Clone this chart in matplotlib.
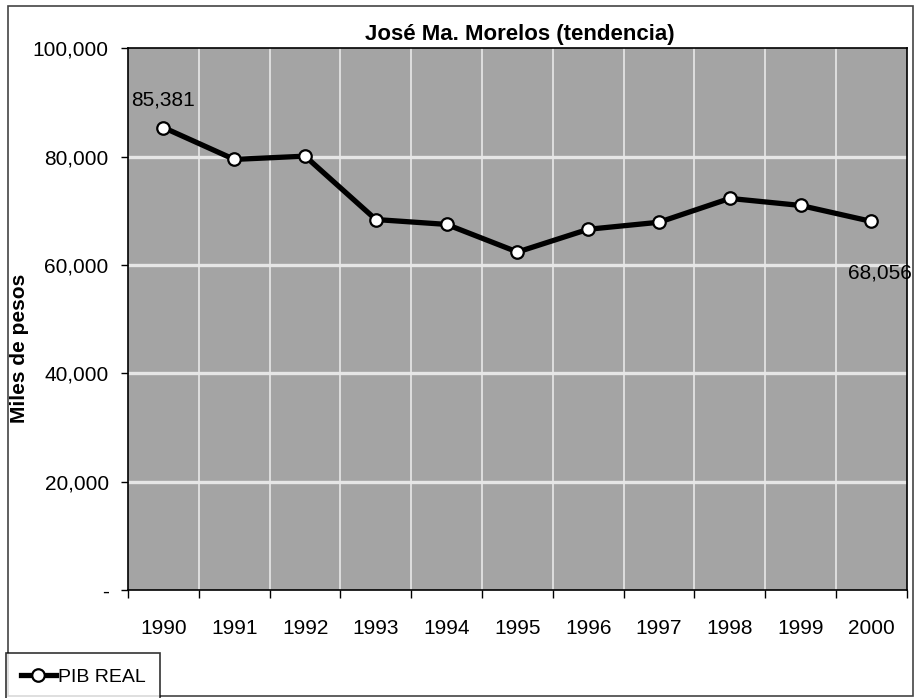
import matplotlib
matplotlib.use("Agg")
import matplotlib.pyplot as plt
from matplotlib.patches import Rectangle
import matplotlib.font_manager as fm

years = ["1990", "1991", "1992", "1993", "1994", "1995", "1996", "1997", "1998", "1999", "2000"]
pib_real = [85381, 79500, 80100, 68400, 67500, 62400, 66600, 67900, 72300, 71000, 68056]
y_ticks = [0, 20000, 40000, 60000, 80000, 100000]
y_tick_labels = ["-", "20,000", "40,000", "60,000", "80,000", "100,000"]
title = "José Ma. Morelos (tendencia)"
y_label = "Miles de pesos"
series_name = "PIB REAL"

names = {f.name for f in fm.fontManager.ttflist}
fam = ["Liberation Sans Narrow", "Liberation Sans", "DejaVu Sans"]
fam = [f for f in fam if f in names] or ["DejaVu Sans"]
plt.rcParams["font.family"] = fam

fig = plt.figure(figsize=(9.15, 6.98), dpi=100)
ax = fig.add_axes([0.140, 0.1547, 0.851, 0.776])
ax.set_facecolor("#a4a4a4")

x = list(range(len(years)))
ax.set_xlim(-0.5, len(years) - 0.5)
ax.set_ylim(0, 100000)

# gridlines
for yv in y_ticks[1:-1]:
    ax.axhline(yv, color="#e6e6e6", lw=2.4, zorder=1)
for xb in [i + 0.5 for i in range(len(years) - 1)]:
    ax.axvline(xb, color="#e8e8e8", lw=1.2, zorder=1)

ax.plot(x, pib_real, color="black", lw=3.8, marker="o", ms=9,
        markerfacecolor="white", markeredgecolor="black", markeredgewidth=1.6,
        zorder=3, clip_on=False, label=series_name)

ax.text(0, 90400, f"{pib_real[0]:,}", ha="center", va="center", fontsize=15, zorder=4)
ax.text(9.67, 58500, f"{pib_real[-1]:,}", ha="left", va="center",
        fontsize=15, zorder=4, clip_on=False)

ax.set_xticks([i - 0.5 for i in range(len(years) + 1)])
ax.set_xticklabels([])
ax.set_xticks(x, minor=True)
ax.set_xticklabels(years, minor=True, fontsize=15)
ax.tick_params(axis="x", which="major", length=6, width=1, direction="out", color="black")
ax.tick_params(axis="x", which="minor", length=0, pad=21)

ax.set_yticks(y_ticks)
ax.set_yticklabels(y_tick_labels, fontsize=15)
ax.tick_params(axis="y", length=5, width=1, direction="out", pad=9)

for s in ax.spines.values():
    s.set_color("black")
    s.set_linewidth(1.2)

ax.set_ylabel(y_label, fontsize=15, fontweight="bold")
ax.yaxis.set_label_coords(-0.127, 0.447)
fig.text(0.568, 0.950, title, ha="center", va="center", fontsize=16, fontweight="bold")

# outer border
fig.patches.append(Rectangle((0.009, 0.003), 0.989, 0.988, transform=fig.transFigure,
                             fill=False, edgecolor="#444444", lw=1.2))

leg = fig.legend(loc="lower left", bbox_to_anchor=(0.007, -0.003), fontsize=14,
                 frameon=True, fancybox=False, edgecolor="black", borderpad=0.75,
                 handlelength=1.8, handletextpad=0.1, borderaxespad=0)
leg.get_frame().set_linewidth(1.2)

fig.savefig("out.png", dpi=100, facecolor="white")
